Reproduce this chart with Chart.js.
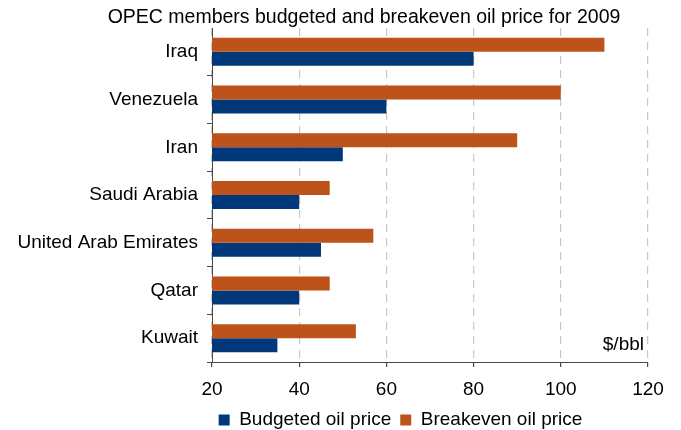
<!DOCTYPE html>
<html>
<head>
<meta charset="utf-8">
<script src="https://cdn.jsdelivr.net/npm/chart.js@4/dist/chart.umd.min.js"></script>
<style>
  html, body { margin: 0; padding: 0; background: #ffffff; }
  #wrap { width: 681px; height: 430px; position: relative; }
</style>
</head>
<body>
<div id="wrap"><canvas id="c" width="681" height="430"></canvas></div>
<script>
const categories = ["Iraq", "Venezuela", "Iran", "Saudi Arabia", "United Arab Emirates", "Qatar", "Kuwait"];
const budgeted = [80, 60, 50, 40, 45, 40, 35];
const breakeven = [110, 100, 90, 47, 57, 47, 53];
const xTicks = [20, 40, 60, 80, 100, 120];
const titleText = "OPEC members budgeted and breakeven oil price for 2009";
const unitText = "$/bbl";
const seriesNames = ["Budgeted oil price", "Breakeven oil price"];

const BLUE = "#01387A";
const ORANGE = "#BD521B";
const AXIS = "#4a4a4a";
const GRID = "#c8c8c8";
const FONT = "'Liberation Sans', Arial, Helvetica, sans-serif";

const placePlugin = {
  id: "place",
  beforeLayout(chart) {
    const lg = chart.legend;
    if (lg && !lg._fixedH) {
      const orig = lg.fit.bind(lg);
      lg.fit = function () { orig(); this.height = 28.5; };
      lg._fixedH = true;
    }
  },
  afterLayout(chart) {
    const t = chart.titleBlock;
    if (t) { const w = t.right - t.left; t.left = 364 - w / 2; t.right = t.left + w; }
    const l = chart.legend;
    if (l) { const w = l.right - l.left; l.left = 400.5 - w / 2; l.right = l.left + w; }
  },
  afterDraw(chart) {
    const ctx = chart.ctx;
    const a = chart.chartArea;
    ctx.save();
    ctx.font = "19px " + FONT;
    ctx.fillStyle = "#000";
    ctx.textAlign = "right";
    ctx.textBaseline = "middle";
    ctx.fillText(unitText, a.right - 4, a.bottom - 17);
    ctx.restore();
  }
};

new Chart(document.getElementById("c"), {
  type: "bar",
  data: {
    labels: categories,
    datasets: [
      { label: seriesNames[1], data: breakeven, backgroundColor: ORANGE, borderWidth: 0,
        categoryPercentage: 0.587, barPercentage: 1.0 },
      { label: seriesNames[0], data: budgeted, backgroundColor: BLUE, borderWidth: 0,
        categoryPercentage: 0.587, barPercentage: 1.0 }
    ]
  },
  options: {
    indexAxis: "y",
    responsive: false,
    animation: false,
    layout: { padding: { left: 0, right: 33, top: 0, bottom: 0 } },
    scales: {
      x: {
        type: "linear",
        min: 20, max: 120,
        afterBuildTicks(scale) { scale.ticks = xTicks.map(v => ({ value: v })); },
        afterFit(scale) { scale.height = 39.5; },
        border: { display: true, color: AXIS, width: 1, dash: [8, 6] },
        grid: {
          display: true, drawOnChartArea: true, drawTicks: true,
          color: GRID, lineWidth: 1.2,
          tickColor: AXIS, tickLength: 5, tickBorderDash: []
        },
        ticks: { color: "#000", font: { family: FONT, size: 19 }, padding: 11, maxRotation: 0 }
      },
      y: {
        type: "category",
        afterFit(scale) { scale.width = 212; },
        border: { display: true, color: AXIS, width: 1 },
        grid: {
          display: true, drawOnChartArea: false, drawTicks: true, offset: true,
          color: AXIS, tickLength: 5,
          tickColor: (c) => (c.index === 0 ? "rgba(0,0,0,0)" : AXIS)
        },
        ticks: { color: "#000", font: { family: FONT, size: 19 }, padding: 9 }
      }
    },
    plugins: {
      title: {
        display: true, text: titleText, color: "#000",
        font: { family: FONT, size: 19.5, weight: "normal", lineHeight: 1 },
        padding: { top: 8.25, bottom: 0.25 }
      },
      legend: {
        display: true, position: "bottom", reverse: true,
        labels: {
          color: "#000", font: { family: FONT, size: 19 },
          boxWidth: 11, boxHeight: 11, padding: 9
        }
      },
      tooltip: { enabled: false }
    }
  },
  plugins: [placePlugin]
});
</script>
</body>
</html>
